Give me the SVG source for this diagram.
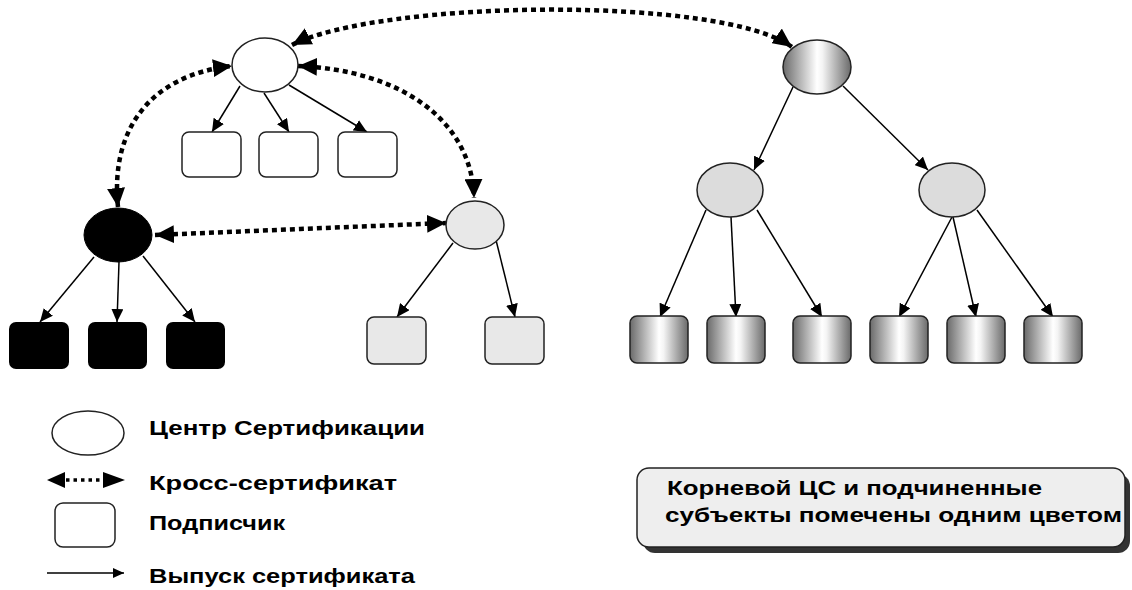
<svg xmlns="http://www.w3.org/2000/svg" width="1132" height="590" viewBox="0 0 1132 590">
<defs>
<linearGradient id="g" x1="0" y1="0" x2="1" y2="0">
<stop offset="0" stop-color="#6a6a6a"/>
<stop offset="0.5" stop-color="#ffffff"/>
<stop offset="0.58" stop-color="#f4f4f4"/>
<stop offset="1" stop-color="#6a6a6a"/>
</linearGradient>
<marker id="a" markerUnits="userSpaceOnUse" markerWidth="14" markerHeight="12" refX="13" refY="6" orient="auto"><path d="M0,0 L13,6 L0,12 Z" fill="#000"/></marker>
<marker id="d" markerUnits="userSpaceOnUse" markerWidth="20" markerHeight="18" refX="19" refY="9" orient="auto-start-reverse"><path d="M0,0 L19,9 L0,18 Z" fill="#000"/></marker>
<marker id="as" markerUnits="userSpaceOnUse" markerWidth="12" markerHeight="10" refX="11" refY="5" orient="auto"><path d="M0,0 L11,5 L0,10 Z" fill="#000"/></marker>
</defs>
<style>
.ca{stroke:#222;stroke-width:1.5}
.sub{stroke:#222;stroke-width:1.5}
.e{stroke:#000;stroke-width:1.5;fill:none;marker-end:url(#a)}
.x{stroke:#000;stroke-width:4.5;fill:none;stroke-dasharray:5 4;marker-start:url(#d);marker-end:url(#d)}
.t{font-family:"Liberation Sans",Arial,sans-serif;font-weight:bold;font-size:20px;fill:#000}
</style>
<rect width="1132" height="590" fill="#fff"/>

<g id="connectors">
<path class="x" d="M292,45 C380,0 720,-5 792,47"/>
<path class="x" d="M118,207 C110,130 150,75 232,66"/>
<path class="x" d="M298,66 C400,70 472,120 474,198"/>
<path class="x" d="M155,235 L300,229 L446,223"/>
<line class="e" x1="240" y1="86" x2="212" y2="132"/>
<line class="e" x1="264" y1="93" x2="289" y2="132"/>
<line class="e" x1="289" y1="85" x2="367" y2="132"/>
<line class="e" x1="94" y1="257" x2="40" y2="322"/>
<line class="e" x1="119" y1="262" x2="117" y2="322"/>
<line class="e" x1="143" y1="256" x2="195" y2="322"/>
<line class="e" x1="453" y1="243" x2="397" y2="317"/>
<line class="e" x1="496" y1="240" x2="515" y2="317"/>
<line class="e" x1="793" y1="87" x2="754" y2="170"/>
<line class="e" x1="843" y1="86" x2="928" y2="170"/>
<line class="e" x1="706" y1="210" x2="660" y2="317"/>
<line class="e" x1="731" y1="217" x2="736" y2="317"/>
<line class="e" x1="757" y1="210" x2="822" y2="317"/>
<line class="e" x1="952" y1="217" x2="899" y2="317"/>
<line class="e" x1="953" y1="217" x2="976" y2="317"/>
<line class="e" x1="977" y1="210" x2="1053" y2="317"/>
</g>

<g id="ca-top"><ellipse class="ca" cx="265" cy="65" rx="33" ry="27" fill="#fff"/></g>
<g id="sub-top-1"><rect class="sub" x="182" y="132" width="59" height="45" rx="7" fill="#fff"/></g>
<g id="sub-top-2"><rect class="sub" x="259" y="132" width="59" height="45" rx="7" fill="#fff"/></g>
<g id="sub-top-3"><rect class="sub" x="338" y="132" width="59" height="45" rx="7" fill="#fff"/></g>

<g id="ca-black"><ellipse cx="118" cy="235" rx="34" ry="27" fill="#000" stroke="#000"/></g>
<g id="sub-black-1"><rect x="9" y="322" width="60" height="47" rx="7" fill="#000"/></g>
<g id="sub-black-2"><rect x="88" y="322" width="59" height="47" rx="7" fill="#000"/></g>
<g id="sub-black-3"><rect x="166" y="322" width="59" height="47" rx="7" fill="#000"/></g>

<g id="ca-light"><ellipse class="ca" cx="475" cy="225" rx="29" ry="24" fill="#e8e8e8"/></g>
<g id="sub-light-1"><rect class="sub" x="367" y="317" width="59" height="47" rx="7" fill="#e8e8e8"/></g>
<g id="sub-light-2"><rect class="sub" x="485" y="317" width="59" height="47" rx="7" fill="#e8e8e8"/></g>

<g id="ca-root"><ellipse class="ca" cx="817" cy="67" rx="34" ry="27" fill="url(#g)"/></g>
<g id="ca-mid-1"><ellipse class="ca" cx="730" cy="190" rx="33" ry="27" fill="#dcdcdc"/></g>
<g id="ca-mid-2"><ellipse class="ca" cx="952" cy="190" rx="33" ry="27" fill="#dcdcdc"/></g>
<g id="sub-g-1"><rect class="sub" x="630" y="316" width="58" height="47" rx="7" fill="url(#g)"/></g>
<g id="sub-g-2"><rect class="sub" x="707" y="316" width="58" height="47" rx="7" fill="url(#g)"/></g>
<g id="sub-g-3"><rect class="sub" x="793" y="316" width="58" height="47" rx="7" fill="url(#g)"/></g>
<g id="sub-g-4"><rect class="sub" x="870" y="316" width="58" height="47" rx="7" fill="url(#g)"/></g>
<g id="sub-g-5"><rect class="sub" x="947" y="316" width="58" height="47" rx="7" fill="url(#g)"/></g>
<g id="sub-g-6"><rect class="sub" x="1024" y="316" width="58" height="47" rx="7" fill="url(#g)"/></g>

<g id="legend">
<ellipse class="ca" cx="88" cy="433" rx="36" ry="22" fill="#fff"/>
<text class="t" x="149" y="435" textLength="276" lengthAdjust="spacingAndGlyphs">Центр Сертификации</text>
<line x1="66" y1="480" x2="102" y2="480" stroke="#000" stroke-width="3.5" stroke-dasharray="3.5 4"/>
<path d="M47,480 L65,472 L65,488 Z" fill="#000"/>
<path d="M125,480 L103,472 L103,488 Z" fill="#000"/>
<text class="t" x="149" y="490" textLength="248" lengthAdjust="spacingAndGlyphs">Кросс-сертификат</text>
<rect class="sub" x="55" y="503" width="60" height="44" rx="8" fill="#fff"/>
<text class="t" x="149" y="530" textLength="136" lengthAdjust="spacingAndGlyphs">Подписчик</text>
<line x1="47" y1="573" x2="124" y2="573" stroke="#000" stroke-width="1.5" marker-end="url(#as)"/>
<text class="t" x="149" y="583" textLength="266" lengthAdjust="spacingAndGlyphs">Выпуск сертификата</text>
</g>

<g id="note">
<rect x="643" y="474" width="487" height="79" rx="12" fill="#333"/>
<rect x="637" y="468" width="488" height="79" rx="12" fill="#eeeeee" stroke="#222" stroke-width="1.5"/>
<text class="t" x="667" y="495" textLength="375" lengthAdjust="spacingAndGlyphs">Корневой ЦС и подчиненные</text>
<text class="t" x="665" y="522" textLength="457" lengthAdjust="spacingAndGlyphs">субъекты помечены одним цветом</text>
</g>
</svg>
